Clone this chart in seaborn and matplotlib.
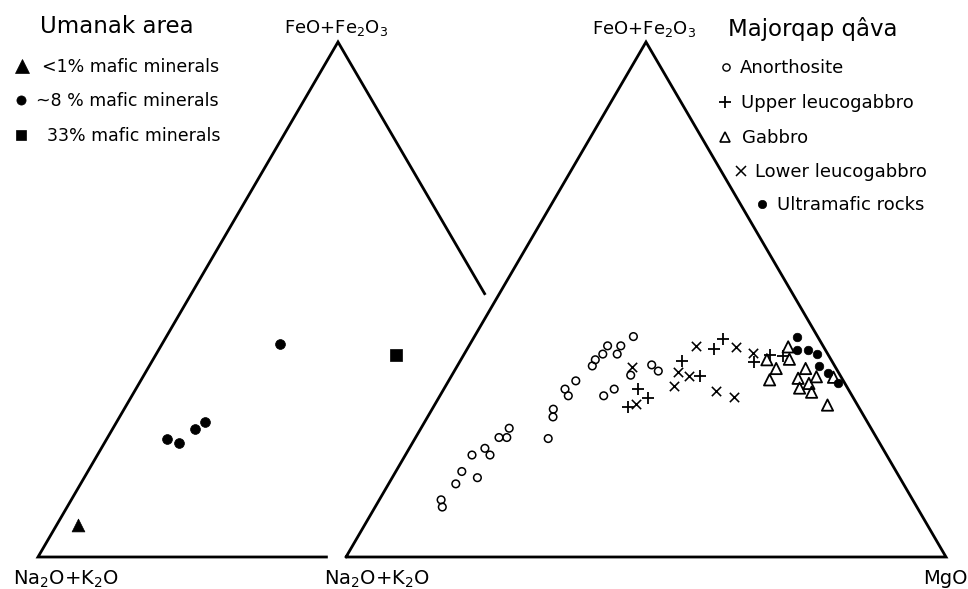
import numpy as np
import pandas as pd
import matplotlib
matplotlib.use("Agg")
import matplotlib.pyplot as plt
from matplotlib.lines import Line2D
import seaborn as sns

# ---------------- data (percent; F = FeO+Fe2O3, M = MgO, Na2O+K2O = 100 - F - M)
umanak_lt1_F = [6.2]
umanak_lt1_M = [3.5]
umanak_8_F = [22.9, 22.1, 24.9, 26.2, 41.3]
umanak_8_M = [10.0, 12.5, 13.7, 14.8, 19.7]
umanak_33_F = [39.2]
umanak_33_M = [40.0]

anorthosite_F = [42.8, 41.0, 39.4, 41.0, 39.4, 38.3, 37.1, 35.3, 32.6, 31.3, 34.2, 32.6,
                 31.3, 28.7, 27.2, 23.0, 25.0, 23.2, 23.2, 21.1, 19.8, 19.8, 16.6, 14.2,
                 15.4, 11.1, 9.7, 37.3, 36.1]
anorthosite_M = [26.5, 25.3, 25.5, 23.1, 23.1, 22.4, 22.5, 29.8, 28.4, 27.3, 21.2, 20.2,
                 21.4, 20.2, 20.9, 22.2, 14.7, 15.2, 13.9, 12.6, 14.1, 11.1, 11.0, 11.2,
                 14.2, 10.3, 11.2, 32.3, 34.0]
upper_leuco_F = [32.6, 29.1, 30.8, 38.1, 35.2, 40.3, 42.4, 37.9, 39.2, 39.0]
upper_leuco_M = [32.3, 32.5, 34.9, 37.0, 41.4, 41.2, 41.6, 49.1, 51.1, 53.3]
gabbro_F = [40.8, 38.4, 38.3, 36.6, 34.4, 36.6, 34.7, 35.0, 33.7, 32.8, 32.0, 34.9, 29.5]
gabbro_M = [53.3, 54.7, 51.0, 53.4, 53.4, 58.3, 58.0, 60.9, 60.3, 59.2, 61.6, 63.8, 65.5]
lower_leuco_F = [36.8, 29.8, 35.9, 35.2, 33.2, 41.0, 40.7, 32.2, 31.1, 39.6]
lower_leuco_M = [29.2, 33.4, 37.3, 39.6, 38.1, 37.8, 44.6, 45.5, 49.1, 48.0]
ultramafic_F = [42.7, 40.2, 40.1, 39.4, 37.1, 35.7, 33.7]
ultramafic_M = [53.8, 55.0, 57.0, 58.8, 60.3, 62.5, 65.2]

left_labels = ["<1% mafic minerals", "~8 % mafic minerals", "33% mafic minerals"]
right_labels = ["Anorthosite", "Upper leucogabbro", "Gabbro", "Lower leucogabbro",
                "Ultramafic rocks"]

# ---------------- geometry
W, H = 968, 589
SX, SY = 600.0, 594.7          # pixels per ternary unit
X0, Y0 = 38.0, 557.0           # pixel of the left diagram's Na2O+K2O corner
SHIFT = 308.0 / SX             # offset of the right diagram
SQ = np.sqrt(3) / 2


def tern(F, M, shift):
    F = np.asarray(F, float) / 100
    M = np.asarray(M, float) / 100
    return M + F / 2 + shift, F * SQ


def frame(label, F, M, shift):
    x, y = tern(F, M, shift)
    return pd.DataFrame({"x": x, "y": y, "group": label})


sns.set_theme(style="white")
plt.rcParams["font.family"] = ["DejaVu Sans"]
plt.rcParams["mathtext.fontset"] = "dejavusans"
plt.rcParams["text.color"] = "black"
plt.rcParams["legend.labelcolor"] = "black"

fig = plt.figure(figsize=(W / 100, H / 100), dpi=100)
ax = fig.add_axes([0, 0, 1, 1])
ax.set_xlim(-X0 / SX, (W - X0) / SX)
ax.set_ylim(-(H - Y0) / SY, Y0 / SY)
ax.axis("off")

# ---------------- triangle outlines
lw_frame = 2.0
base_cut, side_cut = 0.483, 0.491
ax.plot([base_cut, 0, 0.5, 0.5 + 0.5 * side_cut], [0, 0, SQ, SQ * (1 - side_cut)],
        color="black", lw=lw_frame, solid_joinstyle="miter", solid_capstyle="butt")
ax.plot([SHIFT, SHIFT + 0.5, SHIFT + 1, SHIFT], [0, SQ, 0, 0],
        color="black", lw=lw_frame, solid_joinstyle="miter")

# ---------------- points
left_df = pd.concat([
    frame(left_labels[0], umanak_lt1_F, umanak_lt1_M, 0),
    frame(left_labels[1], umanak_8_F, umanak_8_M, 0),
    frame(left_labels[2], umanak_33_F, umanak_33_M, 0),
])
right_df = pd.concat([
    frame(right_labels[0], anorthosite_F, anorthosite_M, SHIFT),
    frame(right_labels[1], upper_leuco_F, upper_leuco_M, SHIFT),
    frame(right_labels[2], gabbro_F, gabbro_M, SHIFT),
    frame(right_labels[3], lower_leuco_F, lower_leuco_M, SHIFT),
    frame(right_labels[4], ultramafic_F, ultramafic_M, SHIFT),
])

left_style = {
    left_labels[0]: dict(marker="^", s=85, facecolor="black", edgecolor="black", linewidth=0.5),
    left_labels[1]: dict(marker="o", s=50, facecolor="black", edgecolor="black", linewidth=0.5),
    left_labels[2]: dict(marker="s", s=68, facecolor="black", edgecolor="black", linewidth=0.5),
}
right_style = {
    right_labels[0]: dict(marker="o", s=30, facecolor="none", edgecolor="black", linewidth=1.1),
    right_labels[1]: dict(marker="+", s=75, linewidth=1.3),
    right_labels[2]: dict(marker="^", s=66, facecolor="none", edgecolor="black", linewidth=1.3),
    right_labels[3]: dict(marker="x", s=45, linewidth=1.15),
    right_labels[4]: dict(marker="o", s=38, facecolor="black", edgecolor="black", linewidth=0.5),
}

for df, styles in ((left_df, left_style), (right_df, right_style)):
    for lab, st in styles.items():
        sns.scatterplot(data=df[df["group"] == lab], x="x", y="y", color="black",
                        ax=ax, legend=False, zorder=3, **st)

# ---------------- text
def fx(px):
    return px / W


def fy(py):
    return 1 - py / H


fig.text(fx(336), fy(33.5), r"FeO+Fe$_2$O$_3$", ha="center", va="baseline", fontsize=13)
fig.text(fx(644), fy(34), r"FeO+Fe$_2$O$_3$", ha="center", va="baseline", fontsize=13)
fig.text(fx(66), fy(585), r"Na$_2$O+K$_2$O", ha="center", va="baseline", fontsize=14)
fig.text(fx(377), fy(585), r"Na$_2$O+K$_2$O", ha="center", va="baseline", fontsize=14)
fig.text(fx(945), fy(584), "MgO", ha="center", va="baseline", fontsize=14)

fig.text(fx(40), fy(33), "Umanak area", ha="left", va="baseline", fontsize=16.5)
fig.text(fx(728), fy(36), "Majorqap qâva", ha="left", va="baseline", fontsize=16.5)


# ---------------- legends (one entry each so they can be staggered)
def item(handle, label, mx, my, tx, fs):
    fpx = fs * 100 / 72
    hl = 1.0
    pad = (tx - mx - hl * fpx / 2) / fpx
    leg = fig.legend(handles=[handle], labels=[label], loc="center left",
                     bbox_to_anchor=(fx(mx - hl * fpx / 2), fy(my)),
                     bbox_transform=fig.transFigure, frameon=False, borderpad=0,
                     borderaxespad=0, handlelength=hl, handletextpad=pad,
                     fontsize=fs, numpoints=1)
    return leg


def h(marker, ms, mfc="black", mew=1.0):
    return Line2D([], [], ls="none", marker=marker, markersize=ms, color="black",
                  markerfacecolor=mfc, markeredgecolor="black", markeredgewidth=mew)


item(h("^", 9.5, mew=0.5), left_labels[0], 22, 67.5, 42, 12.5)
item(h("o", 6.6, mew=0.5), left_labels[1], 21, 101, 36, 12.5)
item(h("s", 7.5, mew=0.5), left_labels[2], 21, 136, 47, 12.5)

item(h("o", 5.2, mfc="none", mew=1.0), right_labels[0], 726, 68, 740, 13)
item(h("+", 9.0, mew=1.3), right_labels[1], 725, 103, 741, 13)
item(h("^", 7.5, mfc="none", mew=1.2), right_labels[2], 725, 138, 742, 13)
item(h("x", 6.5, mew=1.1), right_labels[3], 741, 172, 755, 13)
item(h("o", 6.0, mew=0.5), right_labels[4], 762, 205, 777, 13)

fig.savefig("out.png", dpi=100)
